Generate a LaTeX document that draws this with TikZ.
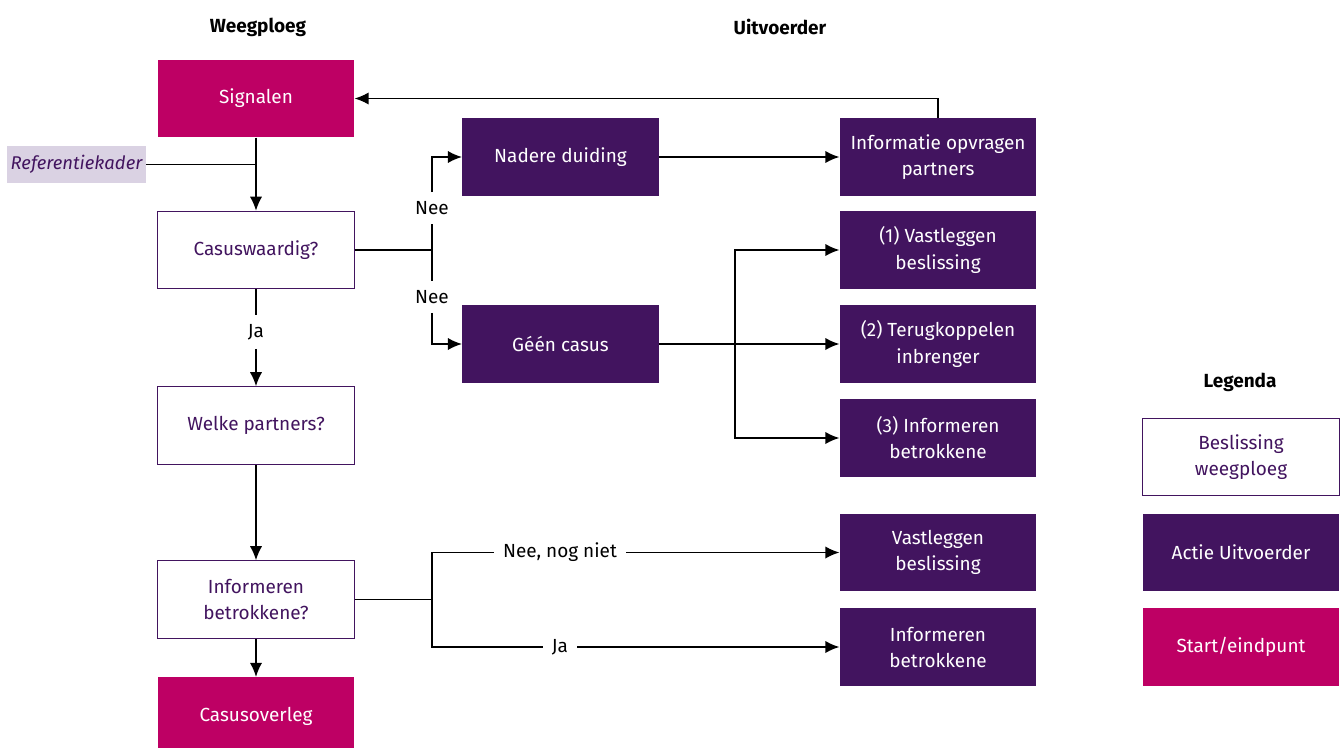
\documentclass[tikz,border=0pt]{standalone}
\usepackage{fontspec}
\setmainfont{Fira Sans}
\usetikzlibrary{positioning, calc, arrows.meta}
\definecolor{rovviolet}{HTML}{42145F}
\definecolor{rovmagenta}{HTML}{BE0064}
\definecolor{rovlila}{HTML}{DAD2E3}

\begin{document}
\begin{tikzpicture}[x=0.02cm, y=-0.02cm, >={Latex[length=8pt,width=7pt]},
        every node/.style={font=\fontsize{10.8}{14.8}\selectfont, align=center},
        box/.style={rectangle, minimum width=3.93cm, minimum height=1.55cm, inner xsep=2pt},
        wpbox/.style={box, draw=rovviolet, fill=white, text=rovviolet, line width=0.6pt},
        actbox/.style={box, fill=rovviolet, text=white},
        startbox/.style={box, fill=rovmagenta, text=white},
        lbl/.style={inner sep=5pt, text=black},
        title/.style={font=\fontsize{10.8}{14.8}\selectfont\bfseries},
        line/.style={line width=0.9pt, black}]
        \useasboundingbox (0,0) rectangle (1344,747);

        % Titles
        \node[title] (twp) at (258,27) {Weegploeg};
        \node[title] (tuit) at (780,27) {Uitvoerder};
        \node[title] (tleg) at (1240,382) {Legenda};

        % Weegploeg column
        \node[startbox] (signalen) at (256,98.5) {Signalen};
        \node[rectangle, fill=rovlila, text=rovviolet, minimum width=2.7cm, minimum height=0.74cm, inner xsep=2pt, font=\fontsize{10.5}{14.5}\selectfont\itshape] (refkader) at (76.5,164.5) {Referentiekader};
        \node[wpbox] (casus) at (256,250) {Casuswaardig?};
        \node[wpbox] (welke) at (256,425.5) {Welke partners?};
        \node[wpbox] (infobetr) at (256,599.5) {Informeren\\betrokkene?};
        \node[startbox] (overleg) at (256,716) {Casusoverleg};

        % Uitvoerder column
        \node[actbox] (nadere) at (560.5,157) {Nadere duiding};
        \node[actbox] (geen) at (560.5,344) {Géén casus};
        \node[actbox] (infopv) at (938,157) {Informatie opvragen\\partners};
        \node[actbox] (vast1) at (938,250) {(1) Vastleggen\\beslissing};
        \node[actbox] (terug2) at (938,344) {(2) Terugkoppelen\\inbrenger};
        \node[actbox] (info3) at (938,438) {(3) Informeren\\betrokkene};
        \node[actbox] (vast) at (938,552.5) {Vastleggen\\beslissing};
        \node[actbox] (info) at (938,647) {Informeren\\betrokkene};

        % Legend
        \node[wpbox] (lwp) at (1241,457) {Beslissing\\weegploeg};
        \node[actbox] (lact) at (1241,552.5) {Actie Uitvoerder};
        \node[startbox] (lstart) at (1241,647) {Start/eindpunt};

        % Labels
        \node[lbl] (nee1) at (432,208) {Nee};
        \node[lbl] (nee2) at (432,297) {Nee};
        \node[lbl] (ja1) at (256,332) {Ja};
        \node[lbl] (neenog) at (560,552.5) {Nee, nog niet};
        \node[lbl] (ja2) at (560,647) {Ja};

        % Split points
        \coordinate (splitA) at (casus.east -| nee1);
        \coordinate (splitB) at (735,344);
        \coordinate (splitC) at (infobetr.east -| nee1);

        % Main vertical arrows
        \draw[line, ->] (signalen) -- (casus);
        \draw[line] (refkader.east) -- (refkader.east -| signalen.south);
        \draw[line] (casus) -- (ja1);
        \draw[line, ->] (ja1) -- (welke);
        \draw[line, ->] (welke) -- (infobetr);
        \draw[line, ->] (infobetr) -- (overleg);

        % Casuswaardig branches
        \draw[line] (casus.east) -- (splitA);
        \draw[line] (splitA) -- (nee1);
        \draw[line] (splitA) -- (nee2);
        \draw[line, ->] (nee1) |- (nadere.west);
        \draw[line, ->] (nee2) |- (geen.west);
        \draw[line, ->] (nadere) -- (infopv);
        \draw[line, ->] (infopv.north) |- (signalen.east);

        % Geen casus outputs
        \draw[line, ->] (geen) -- (terug2);
        \draw[line, ->] (splitB) |- (vast1.west);
        \draw[line, ->] (splitB) |- (info3.west);

        % Informeren betrokkene branches
        \draw[line] (infobetr.east) -- (splitC);
        \draw[line] (neenog.west) -| (splitC) |- (ja2.west);
        \draw[line, ->] (neenog.east) -- (neenog.east -| vast.west);
        \draw[line, ->] (ja2.east) -- (ja2.east -| info.west);

\end{tikzpicture}
\end{document}
